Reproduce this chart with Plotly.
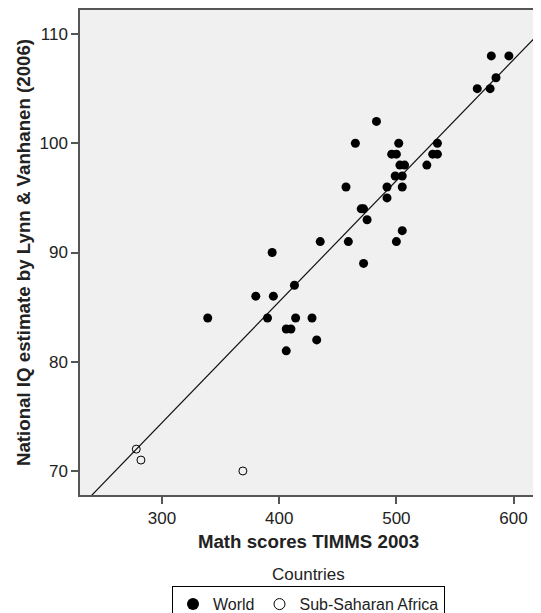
import plotly.graph_objects as go

# World countries: TIMSS 2003 math score vs national IQ estimate
world_math = [581, 596, 585, 569, 580, 483, 465, 502, 535, 496, 500, 531, 535,
              503, 507, 526, 499, 505, 457, 492, 505, 492, 470, 472, 475, 505,
              435, 459, 500, 394, 472, 413, 380, 395, 339, 390, 414, 428, 406,
              410, 432, 406]
world_iq = [108, 108, 106, 105, 105, 102, 100, 100, 100, 99, 99, 99, 99,
            98, 98, 98, 97, 97, 96, 96, 96, 95, 94, 94, 93, 92,
            91, 91, 91, 90, 89, 87, 86, 86, 84, 84, 84, 84, 83,
            83, 82, 81]

# Sub-Saharan Africa
ssa_math = [278, 282, 369]
ssa_iq = [72, 71, 70]

# Fit line
fit_intercept = 41.18
fit_slope = 0.1108
fit_x = [230, 620]
fit_y = [fit_intercept + fit_slope * v for v in fit_x]

x_ticks = [300, 400, 500, 600]
y_ticks = [70, 80, 90, 100, 110]

FONT = "Liberation Sans, Arial, Helvetica, sans-serif"
AX = "#555555"

fig = go.Figure()
fig.add_trace(go.Scatter(x=fit_x, y=fit_y, mode="lines",
                         line=dict(color="#111111", width=1.2),
                         showlegend=False, hoverinfo="skip"))
fig.add_trace(go.Scatter(x=world_math, y=world_iq, mode="markers", name="World",
                         legendgroup="w", showlegend=False,
                         marker=dict(symbol="circle", size=9, color="black",
                                     line=dict(width=0))))
fig.add_trace(go.Scatter(x=ssa_math, y=ssa_iq, mode="markers",
                         name="Sub-Saharan Africa", legendgroup="s", showlegend=False,
                         marker=dict(symbol="circle-open", size=8, color="black",
                                     line=dict(width=1))))
# legend entries (larger symbols, as in the reference key)
fig.add_trace(go.Scatter(x=[None], y=[None], mode="markers", name="World",
                         legendgroup="w",
                         marker=dict(symbol="circle", size=12, color="black",
                                     line=dict(width=0))))
fig.add_trace(go.Scatter(x=[None], y=[None], mode="markers",
                         name="Sub-Saharan Africa", legendgroup="s",
                         marker=dict(symbol="circle-open", size=11, color="black",
                                     line=dict(width=1))))

# page body has an 8px margin, so the figure is sized/placed to compensate
fig.update_layout(
    width=533, height=605,
    margin=dict(l=72, r=4, t=2, b=118, autoexpand=False),
    paper_bgcolor="white",
    plot_bgcolor="#f0f0f0",
    font=dict(family=FONT, size=17, color="#222222"),
    showlegend=True,
    legend=dict(orientation="h", x=0.5, xanchor="center", y=-0.188, yanchor="top",
                bordercolor="black", borderwidth=1, bgcolor="white",
                font=dict(size=16, color="#222222"), itemsizing="trace",
                traceorder="normal"),
    annotations=[dict(text="Countries", x=0.5, y=-0.163, xref="paper", yref="paper",
                      xanchor="center", yanchor="middle", showarrow=False,
                      font=dict(size=17, color="#222222"))],
)
fig.update_xaxes(range=[230, 620], tickvals=x_ticks, ticks="outside", ticklen=7,
                 tickwidth=1.5, tickcolor=AX, showline=True, linecolor=AX,
                 linewidth=1.5, mirror=True, showgrid=False, zeroline=False,
                 automargin=False,
                 tickfont=dict(size=17, color="#222222"),
                 title=dict(text="<b>Math scores TIMMS 2003</b>",
                            font=dict(size=18.7, color="#222222"), standoff=8))
fig.update_yaxes(range=[67.8, 112.2], tickvals=y_ticks, ticks="outside", ticklen=7,
                 tickwidth=1.5, tickcolor=AX, showline=True, linecolor=AX,
                 linewidth=1.5, mirror=True, showgrid=False, zeroline=False,
                 automargin=False,
                 tickfont=dict(size=17, color="#222222"),
                 title=dict(text="<b>National IQ estimate by Lynn &amp; Vanhanen (2006)</b>",
                            font=dict(size=18.7, color="#222222"), standoff=4))

fig.write_html("out.html")
